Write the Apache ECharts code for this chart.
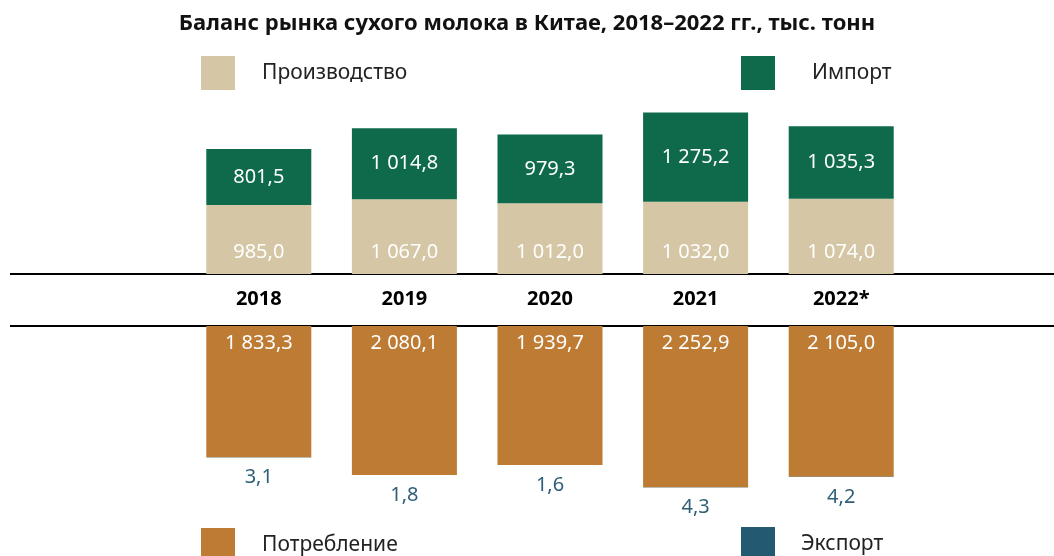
<!DOCTYPE html>
<html>
<head>
    <meta charset="utf-8">
    <title>Баланс рынка сухого молока в Китае</title>
    <script src="https://cdn.jsdelivr.net/npm/echarts@6/dist/echarts.min.js"></script>
    <style>
        html, body { margin: 0; padding: 0; width: 100%; height: 100%; background: #fff; }
        #main { width: 1054px; height: 556px; }
    </style>
</head>
<body>
<div id="main"></div>
<script>
    // данные
    const years = ['2018', '2019', '2020', '2021', '2022*'];
    const production = [985.0, 1067.0, 1012.0, 1032.0, 1074.0];
    const imports = [801.5, 1014.8, 979.3, 1275.2, 1035.3];
    const consumption = [1833.3, 2080.1, 1939.7, 2252.9, 2105.0];
    const exports = [3.1, 1.8, 1.6, 4.3, 4.2];

    const FONT = "'Noto Sans', 'Open Sans', sans-serif";
    const topAxisY = 274, bottomAxisY = 326;

    // 1 014,8
    function fmt(v) {
        const parts = v.toFixed(1).split('.');
        return parts[0].replace(/\B(?=(\d{3})+(?!\d))/g, ' ') + ',' + parts[1];
    }

    const numLabel = (pos, dist, color) => ({
        show: true,
        position: pos,
        distance: dist,
        color: color,
        fontFamily: FONT,
        fontSize: 20,
        formatter: p => fmt(p.value)
    });

    const legendBox = (name, left, top, gap) => ({
        data: [name],
        left: left,
        top: top,
        padding: 0,
        icon: 'rect',
        itemWidth: 34,
        itemHeight: 34,
        selectedMode: false,
        textStyle: { fontFamily: FONT, fontSize: 21, color: '#222', padding: [0, 0, 0, gap] }
    });

    const chart = echarts.init(document.getElementById('main'));
    chart.setOption({
        animation: false,
        title: {
            text: 'Баланс рынка сухого молока в Китае, 2018–2022 гг., тыс. тонн',
            left: 'center',
            top: 8,
            textStyle: { fontFamily: FONT, fontSize: 22, fontWeight: 'bold', color: '#111' }
        },
        legend: [
            legendBox('Производство', 201, 56, 22),
            legendBox('Импорт', 741, 56, 32),
            legendBox('Потребление', 201, 528, 22),
            legendBox('Экспорт', 741, 527, 21)
        ],
        graphic: [
            { type: 'line', shape: { x1: 10, y1: topAxisY, x2: 1054, y2: topAxisY }, style: { stroke: '#000', lineWidth: 2 } },
            { type: 'line', shape: { x1: 10, y1: bottomAxisY, x2: 1054, y2: bottomAxisY }, style: { stroke: '#000', lineWidth: 2 } }
        ],
        grid: [
            { left: 186, right: 140, top: topAxisY - 175, height: 175 },
            { left: 186, right: 140, top: bottomAxisY, height: 179 }
        ],
        xAxis: [
            {
                type: 'category', gridIndex: 0, data: years,
                axisLine: { show: false }, axisTick: { show: false },
                axisLabel: { margin: 15, fontFamily: FONT, fontSize: 20, fontWeight: 'bold', color: '#000' }
            },
            {
                type: 'category', gridIndex: 1, data: years, position: 'top',
                axisLine: { show: false }, axisTick: { show: false }, axisLabel: { show: false }
            }
        ],
        yAxis: [
            { type: 'value', gridIndex: 0, min: 0, max: 2500, show: false },
            { type: 'value', gridIndex: 1, min: 0, max: 2500, inverse: true, show: false }
        ],
        series: [
            {
                name: 'Производство', type: 'bar', stack: 'top', barWidth: 105,
                xAxisIndex: 0, yAxisIndex: 0, data: production,
                itemStyle: { color: '#d5c6a5' },
                label: numLabel('insideBottom', 12, '#fff')
            },
            {
                name: 'Импорт', type: 'bar', stack: 'top', barWidth: 105,
                xAxisIndex: 0, yAxisIndex: 0, data: imports,
                itemStyle: { color: '#0e6a4a' },
                label: numLabel('inside', 0, '#fff')
            },
            {
                name: 'Потребление', type: 'bar', stack: 'bottom', barWidth: 105,
                xAxisIndex: 1, yAxisIndex: 1, data: consumption,
                itemStyle: { color: '#bd7b33' },
                label: numLabel('insideTop', 7, '#fff')
            },
            {
                name: 'Экспорт', type: 'bar', stack: 'bottom', barWidth: 105,
                xAxisIndex: 1, yAxisIndex: 1, data: exports,
                itemStyle: { color: '#235a72' },
                label: numLabel('bottom', 10, '#2f5f77')
            }
        ]
    });
    window.addEventListener('resize', () => chart.resize());
</script>
</body>
</html>
